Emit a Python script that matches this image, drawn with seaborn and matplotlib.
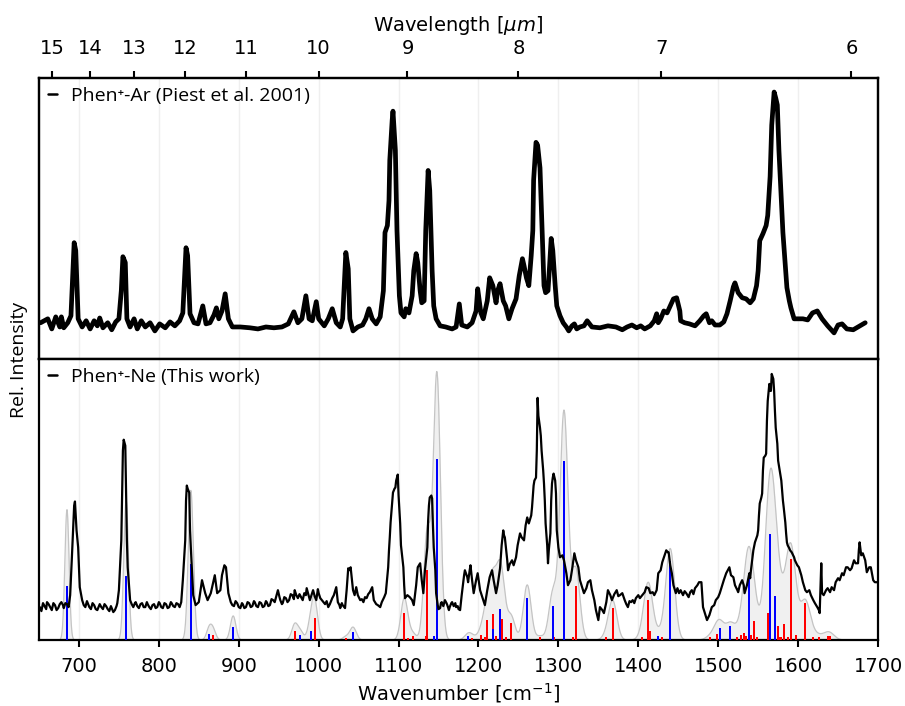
import numpy as np
import pandas as pd
import matplotlib
matplotlib.use("Agg")
import matplotlib.pyplot as plt
import seaborn as sns

# ---------------- data ----------------
# Phen+-Ar (Piest et al. 2001), relative intensity (0..1)
ar_wn = [652, 661, 666, 671, 676, 678, 681, 686, 690, 694, 696, 699, 704, 709, 714, 719, 723, 726, 730, 736,
         741, 746, 750, 753, 755, 758, 760, 764, 769, 773, 778, 783, 789, 795, 801, 808, 814, 820, 826, 830,
         834, 836, 839, 844, 849, 855, 859, 864, 869, 872, 875, 879, 883, 887, 892, 902, 914, 924, 934, 944,
         954, 962, 969, 974, 979, 984, 988, 992, 997, 1000, 1007, 1012, 1017, 1022, 1027, 1030, 1034, 1037, 1039, 1043,
         1049, 1055, 1059, 1063, 1067, 1072, 1077, 1081, 1083, 1086, 1088, 1089, 1092, 1093, 1096, 1098, 1101, 1103, 1107, 1109,
         1113, 1117, 1119, 1122, 1124, 1127, 1129, 1132, 1134, 1137, 1139, 1142, 1144, 1147, 1152, 1159, 1167, 1172, 1176, 1179,
         1186, 1192, 1197, 1199, 1203, 1206, 1211, 1214, 1218, 1222, 1224, 1227, 1231, 1234, 1238, 1242, 1247, 1251, 1255, 1257,
         1260, 1263, 1266, 1268, 1269, 1272, 1274, 1277, 1279, 1282, 1284, 1287, 1289, 1291, 1293, 1296, 1298, 1302, 1306, 1310,
         1313, 1317, 1320, 1323, 1327, 1332, 1336, 1342, 1352, 1362, 1372, 1380, 1386, 1392, 1398, 1403, 1408, 1415, 1420, 1423,
         1425, 1428, 1432, 1436, 1440, 1444, 1448, 1452, 1453, 1458, 1464, 1471, 1477, 1482, 1485, 1489, 1492, 1496, 1502, 1507,
         1511, 1515, 1519, 1521, 1525, 1530, 1535, 1540, 1544, 1548, 1550, 1552, 1556, 1560, 1562, 1565, 1567, 1570, 1572, 1574,
         1576, 1579, 1581, 1584, 1586, 1589, 1591, 1595, 1600, 1606, 1612, 1618, 1624, 1630, 1637, 1645, 1650, 1655, 1661, 1669,
         1675, 1684]
ar_int = [0.129, 0.143, 0.107, 0.150, 0.114, 0.150, 0.111, 0.129, 0.154, 0.414, 0.386, 0.143, 0.114, 0.136, 0.107, 0.136, 0.118, 0.146, 0.111, 0.129,
          0.104, 0.132, 0.143, 0.243, 0.364, 0.343, 0.143, 0.114, 0.143, 0.107, 0.136, 0.114, 0.129, 0.100, 0.125, 0.111, 0.132, 0.118, 0.136, 0.164,
          0.396, 0.368, 0.161, 0.129, 0.125, 0.189, 0.125, 0.129, 0.157, 0.182, 0.143, 0.171, 0.232, 0.143, 0.114, 0.114, 0.111, 0.107, 0.114, 0.111,
          0.114, 0.125, 0.168, 0.129, 0.143, 0.225, 0.143, 0.136, 0.204, 0.143, 0.118, 0.143, 0.179, 0.129, 0.114, 0.143, 0.379, 0.321, 0.143, 0.100,
          0.114, 0.121, 0.143, 0.179, 0.143, 0.125, 0.150, 0.243, 0.450, 0.475, 0.564, 0.707, 0.850, 0.882, 0.743, 0.457, 0.225, 0.164, 0.150, 0.179,
          0.164, 0.225, 0.314, 0.375, 0.343, 0.243, 0.200, 0.207, 0.457, 0.671, 0.600, 0.314, 0.189, 0.143, 0.118, 0.114, 0.107, 0.114, 0.196, 0.121,
          0.114, 0.129, 0.171, 0.250, 0.164, 0.143, 0.207, 0.289, 0.261, 0.200, 0.243, 0.268, 0.207, 0.189, 0.143, 0.179, 0.214, 0.296, 0.357, 0.332,
          0.289, 0.261, 0.368, 0.457, 0.636, 0.771, 0.761, 0.680, 0.511, 0.261, 0.236, 0.243, 0.332, 0.429, 0.386, 0.261, 0.189, 0.154, 0.129, 0.114,
          0.100, 0.118, 0.125, 0.107, 0.114, 0.118, 0.136, 0.114, 0.111, 0.118, 0.114, 0.104, 0.114, 0.121, 0.111, 0.118, 0.107, 0.118, 0.136, 0.161,
          0.129, 0.143, 0.171, 0.164, 0.189, 0.214, 0.218, 0.171, 0.136, 0.129, 0.125, 0.118, 0.136, 0.154, 0.161, 0.129, 0.136, 0.121, 0.121, 0.132,
          0.161, 0.207, 0.257, 0.271, 0.236, 0.218, 0.214, 0.200, 0.214, 0.261, 0.314, 0.421, 0.446, 0.475, 0.511, 0.650, 0.832, 0.950, 0.929, 0.904,
          0.743, 0.564, 0.450, 0.332, 0.254, 0.207, 0.182, 0.143, 0.143, 0.143, 0.139, 0.164, 0.171, 0.143, 0.118, 0.093, 0.121, 0.125, 0.107, 0.104,
          0.114, 0.129]

# Phen+-Ne (This work): (wavenumber, relative intensity in arb. units)
ne_points = [
    (651, 33), (653, 29), (655, 37), (657, 34), (659, 31), (660, 38), (662, 36), (664, 33), (666, 30), (668, 37),
    (670, 35), (672, 30), (674, 32), (676, 36), (678, 38), (680, 35), (681, 32), (683, 37), (685, 36), (687, 33),
    (689, 45), (691, 80), (694, 135), (695, 139), (697, 110), (699, 93), (701, 53), (704, 40), (706, 35), (708, 33),
    (710, 39), (711, 37), (713, 33), (715, 31), (717, 37), (719, 35), (721, 31), (723, 30), (725, 34), (726, 36),
    (728, 33), (730, 31), (732, 36), (734, 34), (736, 31), (738, 29), (740, 34), (741, 32), (743, 28), (745, 30),
    (747, 34), (748, 37), (750, 50), (753, 100), (754, 147), (755, 190), (756, 201), (758, 195), (759, 147), (760, 100),
    (761, 73), (764, 40), (766, 36), (768, 33), (770, 37), (771, 38), (773, 34), (775, 32), (777, 36), (779, 37),
    (781, 33), (783, 33), (785, 38), (786, 36), (788, 33), (790, 31), (792, 35), (794, 36), (796, 32), (798, 33),
    (800, 38), (801, 37), (803, 33), (805, 32), (807, 37), (809, 36), (811, 32), (813, 33), (815, 38), (816, 37),
    (818, 34), (820, 33), (822, 37), (824, 36), (826, 33), (828, 38), (830, 60), (833, 100), (834, 140), (835, 155),
    (836, 152), (838, 148), (839, 110), (840, 93), (843, 45), (846, 35), (850, 38), (854, 60), (858, 47), (861, 40),
    (865, 47), (868, 58), (870, 65), (873, 47), (877, 50), (879, 65), (882, 75), (884, 73), (887, 47), (890, 38),
    (892, 35), (894, 34), (896, 39), (898, 37), (900, 33), (902, 32), (904, 37), (905, 36), (907, 32), (909, 33),
    (911, 38), (913, 37), (915, 33), (917, 34), (919, 39), (920, 38), (922, 34), (924, 33), (926, 38), (928, 37),
    (930, 33), (932, 34), (934, 39), (935, 38), (937, 34), (939, 35), (941, 41), (943, 40), (945, 38), (947, 44),
    (949, 50), (951, 43), (952, 40), (954, 36), (955, 37), (957, 43), (959, 42), (961, 38), (963, 40), (965, 46),
    (967, 45), (969, 41), (970, 50), (972, 45), (974, 42), (976, 46), (978, 43), (980, 40), (982, 47), (984, 45),
    (985, 52), (987, 46), (989, 40), (991, 45), (993, 50), (995, 44), (997, 40), (999, 51), (1000, 47), (1002, 42),
    (1004, 40), (1006, 38), (1008, 36), (1010, 39), (1012, 33), (1014, 36), (1015, 38), (1017, 42), (1019, 45), (1022, 53),
    (1024, 38), (1026, 35), (1027, 32), (1029, 37), (1030, 35), (1033, 32), (1035, 50), (1037, 72), (1038, 70), (1040, 73),
    (1043, 50), (1045, 45), (1047, 53), (1049, 45), (1052, 40), (1054, 41), (1056, 38), (1058, 43), (1060, 42), (1062, 46),
    (1064, 48), (1067, 53), (1069, 40), (1072, 36), (1074, 35), (1077, 33), (1079, 38), (1082, 43), (1084, 47), (1087, 73),
    (1088, 90), (1089, 103), (1090, 118), (1093, 148), (1095, 152), (1096, 153), (1097, 160), (1099, 166), (1100, 145), (1102, 117),
    (1103, 95), (1106, 73), (1107, 55), (1108, 42), (1111, 45), (1114, 43), (1117, 40), (1119, 35), (1122, 55), (1124, 73),
    (1127, 77), (1129, 60), (1131, 47), (1133, 70), (1136, 93), (1137, 120), (1138, 135), (1139, 143), (1141, 145), (1142, 142),
    (1143, 115), (1144, 93), (1146, 70), (1147, 47), (1149, 35), (1150, 31), (1152, 32), (1153, 37), (1154, 38), (1156, 34),
    (1158, 40), (1160, 37), (1161, 35), (1163, 30), (1164, 33), (1166, 37), (1167, 38), (1169, 34), (1171, 37), (1172, 33),
    (1174, 34), (1175, 31), (1177, 30), (1179, 45), (1182, 65), (1183, 70), (1186, 63), (1187, 58), (1189, 70), (1190, 75),
    (1192, 60), (1194, 47), (1197, 60), (1199, 67), (1202, 50), (1204, 45), (1208, 35), (1211, 50), (1214, 63), (1217, 70),
    (1219, 60), (1222, 47), (1224, 55), (1227, 72), (1229, 95), (1231, 110), (1232, 105), (1233, 103), (1236, 80), (1237, 70),
    (1239, 76), (1242, 80), (1244, 75), (1247, 83), (1249, 95), (1252, 107), (1254, 103), (1257, 100), (1259, 115), (1261, 123),
    (1263, 117), (1266, 125), (1267, 133), (1269, 155), (1270, 160), (1272, 163), (1273, 190), (1274, 243), (1275, 225), (1277, 213),
    (1278, 205), (1279, 190), (1281, 170), (1282, 157), (1283, 140), (1284, 117), (1286, 95), (1287, 77), (1288, 90), (1290, 107),
    (1291, 140), (1292, 157), (1293, 163), (1294, 167), (1296, 160), (1297, 147), (1298, 110), (1300, 93), (1302, 83), (1305, 85),
    (1307, 80), (1310, 67), (1312, 55), (1315, 60), (1317, 70), (1320, 87), (1322, 80), (1325, 73), (1327, 60), (1330, 52),
    (1332, 47), (1335, 52), (1337, 58), (1340, 60), (1342, 50), (1345, 40), (1347, 30), (1350, 20), (1352, 33), (1355, 30),
    (1357, 27), (1360, 38), (1362, 50), (1365, 45), (1367, 40), (1370, 46), (1373, 50), (1375, 44), (1377, 45), (1380, 47),
    (1383, 40), (1385, 36), (1387, 33), (1389, 39), (1391, 38), (1393, 40), (1395, 37), (1397, 42), (1400, 45), (1402, 42),
    (1405, 45), (1408, 48), (1410, 53), (1413, 52), (1415, 47), (1418, 48), (1420, 45), (1423, 50), (1425, 67), (1428, 70),
    (1430, 78), (1433, 85), (1434, 87), (1435, 90), (1437, 88), (1438, 88), (1440, 75), (1442, 67), (1444, 55), (1447, 47),
    (1449, 52), (1451, 47), (1453, 50), (1456, 45), (1458, 49), (1460, 47), (1463, 43), (1465, 48), (1467, 50), (1469, 46),
    (1471, 52), (1474, 55), (1476, 58), (1479, 58), (1480, 45), (1481, 33), (1484, 25), (1486, 20), (1489, 25), (1492, 33),
    (1495, 35), (1497, 40), (1500, 43), (1502, 47), (1505, 55), (1507, 60), (1510, 67), (1512, 70), (1514, 73), (1516, 65),
    (1519, 63), (1521, 55), (1524, 50), (1525, 48), (1527, 55), (1530, 60), (1532, 55), (1533, 47), (1536, 55), (1539, 67),
    (1540, 62), (1541, 70), (1544, 90), (1546, 98), (1549, 105), (1550, 110), (1551, 125), (1552, 137), (1554, 143), (1555, 147),
    (1556, 170), (1557, 183), (1559, 185), (1560, 187), (1561, 220), (1562, 240), (1564, 257), (1565, 250), (1566, 250), (1567, 267),
    (1569, 262), (1570, 250), (1571, 230), (1572, 213), (1574, 197), (1575, 180), (1576, 175), (1577, 170), (1579, 160), (1580, 150),
    (1581, 140), (1582, 133), (1584, 118), (1585, 107), (1586, 98), (1587, 95), (1589, 92), (1590, 90), (1592, 88), (1595, 83),
    (1596, 80), (1599, 75), (1601, 73), (1604, 65), (1606, 58), (1609, 50), (1611, 48), (1614, 50), (1616, 45), (1619, 40),
    (1621, 37), (1624, 33), (1626, 30), (1627, 27), (1629, 77), (1630, 47), (1632, 45), (1635, 50), (1637, 52), (1640, 48),
    (1642, 53), (1645, 50), (1647, 58), (1650, 62), (1652, 60), (1655, 67), (1657, 65), (1660, 73), (1662, 73), (1665, 70),
    (1667, 72), (1670, 80), (1672, 77), (1675, 77), (1676, 90), (1677, 98), (1679, 85), (1681, 87), (1684, 80), (1686, 68),
    (1689, 73), (1691, 73), (1694, 60), (1696, 58), (1699, 58),
]

# computed stick spectrum (two groups)
red_wn = [868, 970, 995, 1034, 1107, 1112, 1118, 1134, 1136, 1192, 1203, 1208, 1211, 1218, 1222, 1229, 1234, 1241,
          1277, 1295, 1318, 1322, 1360, 1368, 1405, 1412, 1415, 1430, 1490, 1499, 1523, 1529, 1532, 1535, 1541,
          1545, 1548, 1562, 1575, 1578, 1582, 1587, 1591, 1597, 1609, 1619, 1626, 1637, 1640]
red_h = [5, 9, 22, 2, 27, 2, 4, 4, 70, 2, 5, 3, 20, 26, 4, 21, 3, 17,
         3, 3, 3, 54, 3, 32, 3, 40, 9, 3, 3, 6, 3, 5, 7, 4, 5,
         19, 3, 27, 14, 3, 16, 3, 81, 5, 37, 3, 3, 4, 4]
blue_wn = [685, 759, 840, 863, 893, 977, 990, 1043, 1144, 1148, 1187, 1218, 1227, 1261, 1293, 1307,
           1425, 1440, 1502, 1515, 1538, 1565, 1571]
blue_h = [54, 64, 76, 6, 13, 5, 9, 8, 4, 182, 4, 11, 31, 42, 34, 180,
          4, 79, 12, 14, 63, 106, 44]

lam_ticks = [15, 14, 13, 12, 11, 10, 9, 8, 7, 6]

# ---------------- style ----------------
sns.set_theme(style="ticks")
plt.rcParams["font.family"] = ["DejaVu Sans"]
plt.rcParams["text.color"] = "black"
plt.rcParams["axes.labelcolor"] = "black"
plt.rcParams["axes.linewidth"] = 1.6
plt.rcParams["axes.edgecolor"] = "black"
plt.rcParams["xtick.major.width"] = 1.5
plt.rcParams["xtick.major.size"] = 5
plt.rcParams["xtick.direction"] = "out"
plt.rcParams["xtick.labelsize"] = 14
plt.rcParams["xtick.color"] = "black"
plt.rcParams["xtick.labelcolor"] = "black"
OPEN = ["Open Sans", "DejaVu Sans"]

fig = plt.figure(figsize=(9.05, 7.06), dpi=100)
gs = fig.add_gridspec(2, 1, hspace=0, left=39 / 905, right=878 / 905,
                      top=1 - 78 / 706, bottom=1 - 640 / 706)
ax1 = fig.add_subplot(gs[0])
ax2 = fig.add_subplot(gs[1], sharex=ax1)

# top panel
df_ar = pd.DataFrame({"wn": ar_wn, "I": ar_int})
sns.lineplot(data=df_ar, x="wn", y="I", ax=ax1, color="black", lw=3.4, sort=False,
             estimator=None, label="Phen\u207a-Ar (Piest et al. 2001)")
ax1.set_ylim(0, 1)

# bottom panel: computed broadened spectrum from the sticks
grid = np.linspace(650, 1700, 4000)
all_wn = np.array(red_wn + blue_wn, dtype=float)
all_h = np.array(red_h + blue_h, dtype=float)
sig = 0.009 * all_wn / 2.3548
conv = (all_h[:, None] * (1660.0 / all_wn[:, None]) *
        np.exp(-0.5 * ((grid[None, :] - all_wn[:, None]) / sig[:, None]) ** 2)).sum(axis=0)
ax2.fill_between(grid, 0, conv, color="#f0f0f0", lw=0, zorder=1)
sns.lineplot(x=grid, y=conv, ax=ax2, color="#c4c4c4", lw=0.9, zorder=2)

ax2.bar(red_wn, red_h, width=2.6, color="#ff0000", lw=0, zorder=3)
ax2.bar(blue_wn, blue_h, width=2.6, color="#0000ff", lw=0, zorder=4)

df_ne = pd.DataFrame(ne_points, columns=["wn", "I"])
sns.lineplot(data=df_ne, x="wn", y="I", ax=ax2, color="black", lw=1.6, sort=False,
             estimator=None, label="Phen\u207a-Ne (This work)", zorder=5)
ax2.set_ylim(0, 282)

for ax in (ax1, ax2):
    ax.set_xlim(650, 1700)
    ax.set_xticks(range(700, 1701, 100))
    ax.set_yticks([])
    ax.set_ylabel("")
    ax.set_xlabel("")
    ax.grid(axis="x", color="#efefef", lw=1.0)
    ax.set_axisbelow(True)
    for s in ax.spines.values():
        s.set_visible(True)
        s.set_color("black")
        s.set_linewidth(1.6)
    leg = ax.legend(loc="upper left", frameon=False, handlelength=0.5, handletextpad=0.7,
                    borderaxespad=0.05, prop={"family": OPEN, "size": 14})
    for h in leg.get_lines():
        h.set_linewidth(1.8)
    for t in leg.get_texts():
        t.set_color("black")

ax1.tick_params(axis="x", labelbottom=False)
ax2.tick_params(axis="x", pad=7)
ax2.set_xlabel("Wavenumber [cm$^{-1}$]", fontsize=14, labelpad=4)

# top wavelength axis
sec = ax1.twiny()
sec.set_xlim(ax1.get_xlim())
sec.set_xticks([1e4 / l for l in lam_ticks])
sec.set_xticklabels([str(l) for l in lam_ticks])
sec.tick_params(axis="x", direction="out", length=5, labelsize=14, pad=9.5)
sec.set_xlabel("Wavelength [$\\mu m$]", fontsize=14, labelpad=6)
sec.grid(False)

fig.text(0.021, 1 - 360 / 706, "Rel. Intensity", rotation=90, va="center", ha="center",
         fontsize=14, family=OPEN)

fig.savefig("out.png", dpi=100)
